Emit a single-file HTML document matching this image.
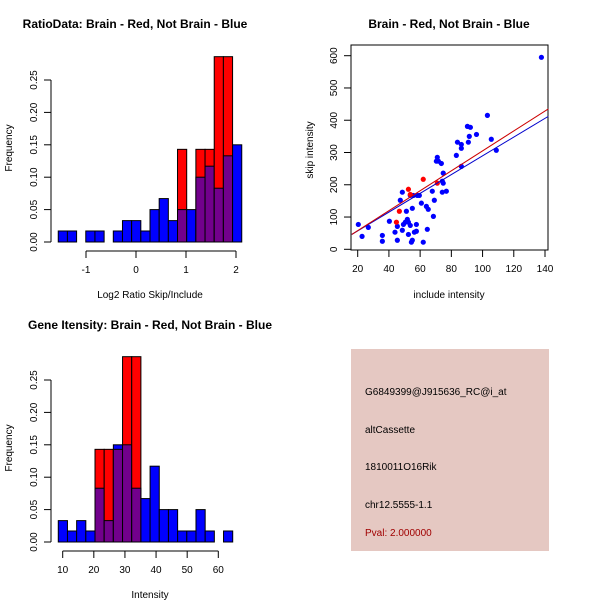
<!DOCTYPE html>
<html><head><meta charset="utf-8"><style>
html,body{margin:0;padding:0;background:#fff;}
svg{display:block;font-family:"Liberation Sans",sans-serif;}
</style></head><body>
<svg id="chart" width="600" height="600" viewBox="0 0 600 600">
<rect x="0" y="0" width="600" height="600" fill="#fff"/>
<text x="135" y="28" font-size="12" font-weight="bold" text-anchor="middle">RatioData: Brain - Red, Not Brain - Blue</text>
<text x="449" y="28" font-size="12" font-weight="bold" text-anchor="middle">Brain - Red, Not Brain - Blue</text>
<text x="150" y="329" font-size="12" font-weight="bold" text-anchor="middle">Gene Itensity: Brain - Red, Not Brain - Blue</text>
<text x="150" y="298" font-size="10" text-anchor="middle">Log2 Ratio Skip/Include</text>
<text x="150" y="598" font-size="10" text-anchor="middle">Intensity</text>
<text x="449" y="298" font-size="10" text-anchor="middle">include intensity</text>
<text transform="translate(12,148) rotate(-90)" font-size="10" text-anchor="middle">Frequency</text>
<text transform="translate(12,448) rotate(-90)" font-size="10" text-anchor="middle">Frequency</text>
<text transform="translate(313,150) rotate(-90)" font-size="10" text-anchor="middle">skip intensity</text>
<rect x="351" y="349" width="198" height="202" fill="#e5c8c2"/>
<text x="365" y="395" font-size="10">G6849399@J915636_RC@i_at</text>
<text x="365" y="433" font-size="10">altCassette</text>
<text x="365" y="470" font-size="10">1810011O16Rik</text>
<text x="365" y="508" font-size="10">chr12.5555-1.1</text>
<text x="365" y="536" font-size="10" fill="#a00000">Pval: 2.000000</text>
<g id="g"></g>
</svg>
<script>
// Ratio histogram data
const ratioBreakStart = -1.555, ratioBinWidth = 0.1835;
const ratioBlue = [0.017,0.017,0,0.017,0.017,0,0.017,0.033,0.033,0.017,0.05,0.067,0.033,0.05,0.05,0.1,0.117,0.083,0.133,0.15];
const ratioRed  = [0,0,0,0,0,0,0,0,0,0,0,0,0,0.143,0,0.143,0.143,0.286,0.286,0];
const ratioXTicks = [-1,0,1,2];
const freqTicks = [0,0.05,0.10,0.15,0.20,0.25];
const freqTickLabels = ["0.00","0.05","0.10","0.15","0.20","0.25"];
// Intensity histogram data
const intBreakStart = 8.58, intBinWidth = 2.95;
const intBlue = [0.033,0.017,0.033,0.017,0.083,0.033,0.15,0.15,0.083,0.067,0.117,0.05,0.05,0.017,0.017,0.05,0.017,0,0.017];
const intRed  = [0,0,0,0,0.143,0.143,0.143,0.286,0.286,0,0,0,0,0,0,0,0,0,0];
const intXTicks = [10,20,30,40,50,60];
// Scatter data
const blueX = [20.4,22.8,26.8,35.8,35.8,40.3,43.9,45.4,45.4,47.3,48.6,48.6,49.3,50.5,51.2,51.8,52.5,52.5,53.7,53.7,54.4,55,55,55.7,56.3,57.6,57.6,58.2,59.5,60.8,62,64,64.6,65.2,67.8,68.5,69.1,70.4,71,71.7,73.6,74.2,74.2,74.8,74.8,76.8,83.2,83.9,86.4,86.4,86.4,90.3,91.5,90.9,92.2,96.1,103.1,105.6,108.8,137.7];
const blueY = [77,40,68,43,25,87,53,71,28,152,177,59,77,84,118,93,84,46,74,167,22,28,127,167,53,56,77,167,167,143,22,133,62,124,180,102,152,273,285,273,266,211,177,236,205,180,291,332,325,313,257,381,350,332,378,356,415,341,307,595];
const redX = [62,52.5,53.7,46.7,44.8,71];
const redY = [217,186,170,118,84,205];
const fitRed = [-4, 3.09];   // intercept, slope
const fitBlue = [-1.1, 2.907];
const scXTicks = [20,40,60,80,100,120,140];
const scYTicks = [0,100,200,300,400,500,600];

const NS = "http://www.w3.org/2000/svg";
const G = document.getElementById('g');
function el(tag, attrs, parent){const e=document.createElementNS(NS,tag);for(const k in attrs)e.setAttribute(k,attrs[k]);(parent||G).appendChild(e);return e;}
const BLUE="#0000ff", RED="#ff0000", PURPLE="#72008c";

function histogram(prefix, top, xs, blue, red, start, w, xTicks, fmt){
  const y0 = top, yPer = (y0-(top-162))/0.25; // pixels per unit
  const ys = v => y0 - v*yPer;
  for(let i=0;i<blue.length;i++){
    const b=blue[i], r=red[i]; const x1=xs(start+i*w), x2=xs(start+(i+1)*w);
    const hi=Math.max(b,r), lo=Math.min(b,r);
    if(hi>0){
      const c = r>b?RED:BLUE;
      const rect=el('rect',{x:x1,y:ys(hi),width:x2-x1,height:ys(0)-ys(hi),fill:c,stroke:'#000','stroke-width':1});
      
      
    }
    if(lo>0){
      const rect=el('rect',{x:x1,y:ys(lo),width:x2-x1,height:ys(0)-ys(lo),fill:PURPLE,stroke:'#000','stroke-width':1});
      
      
    }
  }
  // y axis
  const ya=el('line',{x1:51,y1:ys(0),x2:51,y2:ys(0.25),stroke:'#000'});
  
  
  freqTicks.forEach((t,i)=>{
    el('line',{x1:44,y1:ys(t),x2:51,y2:ys(t),stroke:'#000'});
    const tx=el('text',{transform:`translate(37,${ys(t)}) rotate(-90)`,'font-size':10,'text-anchor':'middle'});
    tx.textContent=freqTickLabels[i];
    
    
  });
  const ay=y0+9;
  const xa=el('line',{x1:xs(xTicks[0]),y1:ay,x2:xs(xTicks[xTicks.length-1]),y2:ay,stroke:'#000'});
  
  
  xTicks.forEach(t=>{
    el('line',{x1:xs(t),y1:ay,x2:xs(t),y2:ay+7,stroke:'#000'});
    const tx=el('text',{x:xs(t),y:ay+22,'font-size':10,'text-anchor':'middle'});
    tx.textContent=String(t);
    
    
  });
}
histogram('ratio-hist',242,v=>136+v*50,ratioBlue,ratioRed,ratioBreakStart,ratioBinWidth,ratioXTicks);
histogram('intensity-hist',542,v=>62.7+(v-10)*3.112,intBlue,intRed,intBreakStart,intBinWidth,intXTicks);

// scatter
const sx = v => 357.7 + (v-20)*(545-357.7)/120;
const sy = v => 249.3 - v*(249.3-55.7)/600;
const box=el('rect',{x:351,y:45,width:197,height:205,fill:'none',stroke:'#000'});


scXTicks.forEach(t=>{
  el('line',{x1:sx(t),y1:250,x2:sx(t),y2:257,stroke:'#000'});
  const tx=el('text',{x:sx(t),y:272,'font-size':10,'text-anchor':'middle'});
  tx.textContent=String(t);
  
  
});
scYTicks.forEach(t=>{
  el('line',{x1:344,y1:sy(t),x2:351,y2:sy(t),stroke:'#000'});
  const tx=el('text',{transform:`translate(337,${sy(t)}) rotate(-90)`,'font-size':10,'text-anchor':'middle'});
  tx.textContent=String(t);
  
  
});
blueX.forEach((x,i)=>{
  const c=el('circle',{cx:sx(x),cy:sy(blueY[i]),r:2.6,fill:BLUE});
  
  
});
redX.forEach((x,i)=>{
  const c=el('circle',{cx:sx(x),cy:sy(redY[i]),r:2.6,fill:RED});
  
  
});
const xL=16.2, xR=142.1;
const lb=el('line',{x1:sx(xL),y1:sy(fitBlue[0]+fitBlue[1]*xL),x2:sx(xR),y2:sy(fitBlue[0]+fitBlue[1]*xR),stroke:'#0000cc','stroke-width':1});


const lr=el('line',{x1:sx(xL),y1:sy(fitRed[0]+fitRed[1]*xL),x2:sx(xR),y2:sy(fitRed[0]+fitRed[1]*xR),stroke:'#cc0000','stroke-width':1});


</script>
</body></html>
